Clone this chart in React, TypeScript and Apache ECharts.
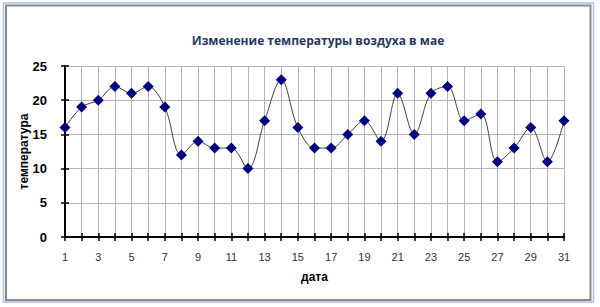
import React, { useEffect, useRef } from "react";
import * as echarts from "echarts";

const days = Array.from({ length: 31 }, (_, i) => String(i + 1));
const temperatures = [16, 19, 20, 22, 21, 22, 19, 12, 14, 13, 13, 10, 17, 23, 16, 13, 13, 15, 17, 14, 21, 15, 21, 22, 17, 18, 11, 13, 16, 11, 17];
const yTicks = { min: 0, max: 25, interval: 5 };
const titleText = "Изменение температуры воздуха в мае";
const xName = "дата";
const yName = "температура";

export default function App() {
  const ref = useRef<HTMLDivElement>(null);
  useEffect(() => {
    if (!ref.current) return;
    const chart = echarts.init(ref.current, null, { renderer: "svg" });
    const grid = { left: 65, right: 36, top: 66, bottom: 70 };
    chart.setOption({
      animation: false,
      backgroundColor: "#ffffff",
      title: {
        text: titleText,
        left: 313,
        textAlign: "center",
        top: 29,
        textStyle: { fontFamily: "Open Sans", fontWeight: "bold", fontSize: 12, color: "#1F3864" },
      },
      graphic: [
        { type: "rect", shape: { x: 3.5, y: 3, width: 590, height: 299 }, style: { fill: "none", stroke: "#A9C1DD", lineWidth: 1.5 }, z: 10 },
        { type: "rect", shape: { x: 6, y: 5.5, width: 584.5, height: 294.5 }, style: { fill: "none", stroke: "#8A8A8A", lineWidth: 2 }, z: 10 },
      ],
      grid,
      xAxis: [
        {
          type: "category",
          data: days,
          boundaryGap: false,
          name: xName,
          nameLocation: "middle",
          nameGap: 34,
          nameMoveOverlap: false,
          nameTextStyle: { fontFamily: "Liberation Sans", fontWeight: "bold", fontSize: 12, color: "#000" },
          axisLine: { lineStyle: { color: "#000", width: 2 } },
          axisTick: { show: true, interval: 0, length: 4, lineStyle: { color: "#000", width: 1.5 } },
          axisLabel: { interval: 1, margin: 14, fontFamily: "Liberation Sans", fontSize: 11, color: "#333" },
          splitLine: { show: true, interval: 0, lineStyle: { color: "#B4B4B4", width: 1 } },
        },
        {
          type: "category",
          data: days,
          boundaryGap: false,
          position: "bottom",
          axisLine: { show: false },
          axisTick: { show: true, inside: true, interval: 0, length: 4, lineStyle: { color: "#000", width: 1.5 } },
          axisLabel: { show: false },
          splitLine: { show: false },
        },
      ],
      yAxis: [
        {
          type: "value",
          min: yTicks.min,
          max: yTicks.max,
          interval: yTicks.interval,
          name: yName,
          nameLocation: "middle",
          nameGap: 35,
          nameMoveOverlap: false,
          nameRotate: 90,
          nameTextStyle: { fontFamily: "Liberation Sans", fontWeight: "bold", fontSize: 12, color: "#000" },
          axisLine: { show: true, lineStyle: { color: "#000", width: 2 } },
          axisTick: { show: true, length: 4, lineStyle: { color: "#000", width: 1.5 } },
          axisLabel: { margin: 18, fontFamily: "Liberation Sans", fontWeight: "bold", fontSize: 13, color: "#000" },
          splitLine: { show: true, lineStyle: { color: "#B4B4B4", width: 1 } },
        },
        {
          type: "value",
          min: yTicks.min,
          max: yTicks.max,
          interval: yTicks.interval,
          position: "left",
          axisLine: { show: false },
          axisTick: { show: true, inside: true, length: 4, lineStyle: { color: "#000", width: 1.5 } },
          axisLabel: { show: false },
          splitLine: { show: false },
        },
      ],
      series: [
        {
          type: "line",
          data: temperatures,
          smooth: 0.35,
          showAllSymbol: true,
          symbol: "diamond",
          symbolSize: 11,
          itemStyle: { color: "#000080" },
          lineStyle: { color: "#404040", width: 1 },
          z: 5,
        },
      ],
    });
    return () => chart.dispose();
  }, []);
  return <div ref={ref} style={{ width: 600, height: 307, position: "absolute", left: 0, top: 0 }} />;
}
